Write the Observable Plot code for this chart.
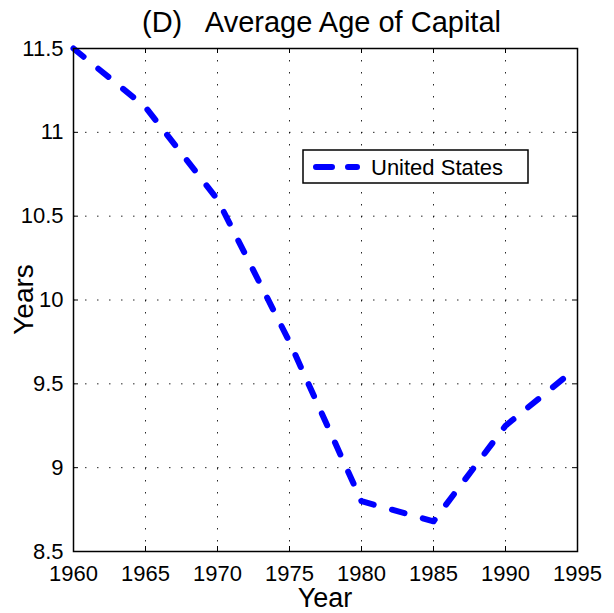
<!DOCTYPE html>
<html>
<head>
<meta charset="utf-8">
<script src="https://cdn.jsdelivr.net/npm/d3@7"></script>
<script src="https://cdn.jsdelivr.net/npm/@observablehq/plot@0.6"></script>
<style>
  html, body { margin: 0; padding: 0; background: #fff; }
  #chart { position: relative; width: 614px; height: 613px; }
</style>
</head>
<body>
<div id="chart"></div>
<script>
// Data
const years = [1960, 1965, 1970, 1975, 1980, 1985, 1990, 1995];
const usAge = [11.5, 11.15, 10.6, 9.75, 8.8, 8.68, 9.25, 9.6];
const seriesName = "United States";

const xTicks = [1960, 1965, 1970, 1975, 1980, 1985, 1990, 1995];
const yTicks = [8.5, 9, 9.5, 10, 10.5, 11, 11.5];
const yTickLabels = ["8.5", "9", "9.5", "10", "10.5", "11", "11.5"];

const titleText = "(D)   Average Age of Capital";
const xLabel = "Year";
const yLabel = "Years";

const W = 614, H = 613;
const mL = 73, mR = 37, mT = 48, mB = 62;
const innerW = W - mL - mR, innerH = H - mT - mB;
const font = "'Liberation Sans', Arial, Helvetica, sans-serif";

const rows = years.map((y, i) => ({year: y, value: usAge[i]}));
const yLabelMap = new Map(yTicks.map((t, i) => [t, yTickLabels[i]]));

const gridStyle = {stroke: "#000", strokeOpacity: 0.85, strokeWidth: 1, strokeDasharray: "1.5,10.5"};

const svg = Plot.plot({
  width: W, height: H,
  marginLeft: mL, marginRight: mR, marginTop: mT, marginBottom: mB,
  style: {fontFamily: font, fontSize: "22px", background: "#fff", color: "#000", overflow: "visible"},
  x: {domain: [1960, 1995], axis: null},
  y: {domain: [8.5, 11.5], axis: null},
  marks: [
    Plot.gridX(xTicks, gridStyle),
    Plot.gridY(yTicks, gridStyle),
    Plot.tickX(xTicks, {x: d => d, insetTop: innerH - 5, stroke: "#000", strokeWidth: 1}),
    Plot.tickX(xTicks, {x: d => d, insetBottom: innerH - 5, stroke: "#000", strokeWidth: 1}),
    Plot.tickY(yTicks, {y: d => d, insetRight: innerW - 5, stroke: "#000", strokeWidth: 1}),
    Plot.tickY(yTicks, {y: d => d, insetLeft: innerW - 5, stroke: "#000", strokeWidth: 1}),
    Plot.line(rows, {x: "year", y: "value", stroke: "#0000ff", strokeWidth: 6,
      strokeDasharray: "13,19", strokeLinecap: "round", strokeLinejoin: "round"}),
    Plot.frame({stroke: "#000", strokeWidth: 1.5}),
    // tick labels
    Plot.text(xTicks, {x: d => d, frameAnchor: "bottom", lineAnchor: "top", dy: 14,
      text: d => String(d), fontSize: 22, fill: "#000", fontFamily: font}),
    Plot.text(yTicks, {y: d => d, frameAnchor: "left", textAnchor: "end", dx: -10,
      text: d => yLabelMap.get(d), fontSize: 22, fill: "#000", fontFamily: font})
  ]
});

const s = d3.select(svg);

// Title
s.append("text")
  .attr("x", 321.5).attr("y", 32)
  .attr("text-anchor", "middle")
  .attr("fill", "#000")
  .style("font-family", font).style("font-size", "29px").style("white-space", "pre")
  .attr("xml:space", "preserve")
  .text(titleText);
// X label
s.append("text")
  .attr("x", mL + innerW / 2).attr("y", 607)
  .attr("text-anchor", "middle").attr("fill", "#000")
  .style("font-family", font).style("font-size", "27px")
  .text(xLabel);
// Y label
s.append("text")
  .attr("transform", `translate(33,${mT + innerH / 2}) rotate(-90)`)
  .attr("text-anchor", "middle").attr("fill", "#000")
  .style("font-family", font).style("font-size", "28px")
  .text(yLabel);
// Legend
const lg = s.append("g");
lg.append("rect").attr("x", 303).attr("y", 150).attr("width", 225).attr("height", 33)
  .attr("fill", "#fff").attr("stroke", "#000").attr("stroke-width", 1.5);
lg.append("line").attr("x1", 316).attr("x2", 357).attr("y1", 167).attr("y2", 167)
  .attr("stroke", "#0000ff").attr("stroke-width", 6).attr("stroke-linecap", "round")
  .attr("stroke-dasharray", "16,16");
lg.append("text").attr("x", 371).attr("y", 175).attr("fill", "#000")
  .attr("text-anchor", "start")
  .style("font-family", font).style("font-size", "22px")
  .text(seriesName);

document.getElementById("chart").appendChild(svg);
</script>
</body>
</html>
